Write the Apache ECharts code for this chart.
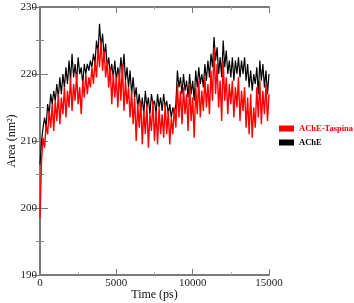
<!DOCTYPE html>
<html>
<head>
<meta charset="utf-8">
<script src="https://cdn.jsdelivr.net/npm/echarts@6/dist/echarts.min.js"></script>
<style>
  html, body { margin: 0; padding: 0; background: #fff; }
  #chart { width: 354px; height: 303px; }
</style>
</head>
<body>
<div id="chart"></div>
<script>
// time (ps)
const time = [0,100,200,300,400,500,600,700,800,900,1000,1100,1200,1300,1400,1500,1600,1700,1800,1900,
  2000,2100,2200,2300,2400,2500,2600,2700,2800,2900,3000,3100,3200,3300,3400,3500,3600,3700,3800,3900,
  4000,4100,4200,4300,4400,4500,4600,4700,4800,4900,5000,5100,5200,5300,5400,5500,5600,5700,5800,5900,
  6000,6100,6200,6300,6400,6500,6600,6700,6800,6900,7000,7100,7200,7300,7400,7500,7600,7700,7800,7900,
  8000,8100,8200,8300,8400,8500,8600,8700,8800,8900,9000,9100,9200,9300,9400,9500,9600,9700,9800,9900,
  10000,10100,10200,10300,10400,10500,10600,10700,10800,10900,11000,11100,11200,11300,11400,11500,11600,11700,11800,11900,
  12000,12100,12200,12300,12400,12500,12600,12700,12800,12900,13000,13100,13200,13300,13400,13500,13600,13700,13800,13900,
  14000,14100,14200,14300,14400,14500,14600,14700,14800,14900,15000]

// area (nm^2), AChE-Taspina
const areaTaspina = [198.5,207,210.5,209,212.5,211,214.5,212,215.5,211.5,216,213,217,212.5,216.5,214,218,213.5,217.5,215,
  219.5,214.5,218.5,216,220,215.5,218,214,219,216.5,220,217,219.5,218,221,218.5,222,219.5,224,221,
  225,220.5,223.5,219.5,222,218,221,215.5,220,216.5,219.5,215,220.5,216,221.5,214.5,219,215.5,218,213.5,
  217.5,212.5,216.5,210,215.5,212,216,209.5,214.5,211,215.5,209,214,211.5,216,210,214.5,209.5,215,211,
  214,210.5,215.5,211,214.5,209.5,213.5,211,215,212,218.5,213.5,217.5,212.5,218,214,217,211.5,218.5,213,
  216.5,210.5,218,214,219,213.5,217.5,214.5,219.5,215,218.5,214,220.5,216,224,217,221.5,215,219,213,
  222,216,219.5,214,218.5,215.5,219,213.5,218,215,219.5,213,217.5,214.5,218,212,216.5,211,217,210.5,
  215,212,218,213.5,219,212.5,217.5,214,218.5,213,217]

// area (nm^2), AChE
const areaAChE = [206.5,210,212,213.5,212,215.5,214,217,215.5,217.5,216,218.5,216.5,219.5,217,220,218,221,218.5,222,
  219,223,219.5,221.5,219,222.5,220,221,218.5,221.5,220,221.5,220.5,222,221,223,221.5,225,223,227.5,
  224,226,222.5,224.5,221,222.5,220,221.5,219.5,222,219,221,219.5,222.5,220,223,219,221,218,220.5,
  217,219.5,216.5,218,215,217,214.5,216.5,214,217.5,215,216.5,214,217,215.5,216,214,217,215,216.5,
  214.5,217,215,216,214,215.5,213.5,215,214,215.5,220.5,218,219.5,217,220,217.5,219,216.5,220,217,
  219,216,220.5,218,221,218.5,220,218,221.5,219,222,219.5,223,221,225.5,222,224,220,222.5,219.5,
  225,221,223.5,220,222,219.5,222.5,219,222,220,222.5,219.5,222,220,222.5,219,221.5,218,220.5,217.5,
  220,218.5,221,217,222,219,221.5,218,220.5,217,220]

const chart = echarts.init(document.getElementById('chart'))

const fontFamily = '"Liberation Serif", "DejaVu Serif", serif'
const frame = { show: true, lineStyle: { color: '#7a7a7a', width: 2 } }

function pairs(ys) {
  return time.map((t, i) => [t, ys[i]])
}

chart.setOption({
  animation: false,
  grid: { left: 40, right: 85, top: 7, bottom: 28, outerBoundsMode: 'none' },
  legend: {
    left: 279,
    top: 124,
    padding: 0,
    orient: 'vertical',
    itemWidth: 15,
    itemHeight: 6,
    itemGap: 5,
    icon: 'rect',
    textStyle: { fontFamily: fontFamily, fontWeight: 'bold', fontSize: 8.5 },
    data: [
      { name: 'AChE-Taspina', textStyle: { color: '#ff0000' } },
      { name: 'AChE', textStyle: { color: '#000' } }
    ]
  },
  xAxis: [{
    type: 'value',
    min: 0,
    max: 15000,
    interval: 5000,
    name: 'Time (ps)',
    nameLocation: 'middle',
    nameGap: 14,
    nameMoveOverlap: false,
    nameTextStyle: { fontFamily: fontFamily, fontSize: 12, color: '#111' },
    axisLine: frame,
    axisTick: { inside: true, length: 6, lineStyle: { color: '#7a7a7a' } },
    minorTick: { show: true, splitNumber: 2, length: 3, lineStyle: { color: '#aaa' } },
    axisLabel: { fontFamily: fontFamily, fontSize: 11, color: '#222', margin: 3, formatter: v => String(v) },
    splitLine: { show: false }
  }, {
    type: 'value',
    position: 'top',
    min: 0,
    max: 15000,
    interval: 5000,
    axisLine: frame,
    axisTick: { inside: true, length: 6, lineStyle: { color: '#7a7a7a' } },
    minorTick: { show: true, splitNumber: 2, length: 3, lineStyle: { color: '#aaa' } },
    axisLabel: { show: false },
    splitLine: { show: false }
  }],
  yAxis: [{
    type: 'value',
    min: 190,
    max: 230,
    interval: 10,
    name: 'Area (nm²)',
    nameLocation: 'middle',
    nameGap: 22,
    nameMoveOverlap: false,
    nameTextStyle: { fontFamily: fontFamily, fontSize: 12, color: '#111' },
    axisLine: frame,
    axisTick: { inside: true, length: 8, lineStyle: { color: '#7a7a7a' } },
    minorTick: { show: true, splitNumber: 2, length: 4, lineStyle: { color: '#888' } },
    axisLabel: { fontFamily: fontFamily, fontSize: 11, color: '#222', margin: 3 },
    splitLine: { show: false }
  }, {
    type: 'value',
    position: 'right',
    min: 190,
    max: 230,
    interval: 10,
    axisLine: frame,
    axisTick: { inside: true, length: 8, lineStyle: { color: '#7a7a7a' } },
    minorTick: { show: true, splitNumber: 2, length: 4, lineStyle: { color: '#888' } },
    axisLabel: { show: false },
    splitLine: { show: false }
  }],
  series: [
    {
      name: 'AChE',
      type: 'line',
      data: pairs(areaAChE),
      symbol: 'none',
      color: '#000',
      lineStyle: { width: 1.2, color: '#000' },
      z: 2
    },
    {
      name: 'AChE-Taspina',
      type: 'line',
      data: pairs(areaTaspina),
      symbol: 'none',
      color: '#ff0000',
      lineStyle: { width: 1.4, color: '#ff0000' },
      z: 3
    }
  ]
})
</script>
</body>
</html>
